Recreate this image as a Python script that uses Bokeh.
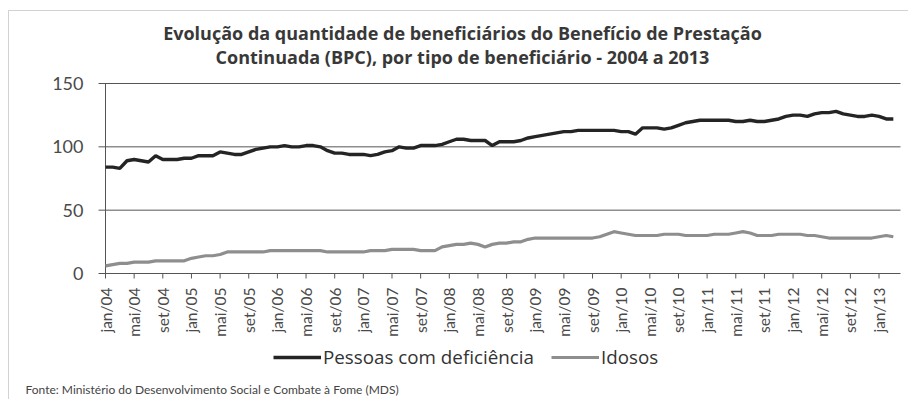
import math
from bokeh.plotting import figure
from bokeh.models import (Range1d, Legend, LegendItem, ColumnDataSource, Label, BoxAnnotation)
from bokeh.core.properties import value
from bokeh.embed import file_html
from bokeh.resources import INLINE

# ---- data (thousands) ----
deficiencia = [84, 84, 83, 89, 90, 89, 88, 93, 90, 90, 90, 91, 91, 93, 93, 93, 96, 95, 94, 94,
               96, 98, 99, 100, 100, 101, 100, 100, 101, 101, 100, 97, 95, 95, 94, 94, 94, 93, 94, 96,
               97, 100, 99, 99, 101, 101, 101, 102, 104, 106, 106, 105, 105, 105, 101, 104, 104, 104, 105, 107,
               108, 109, 110, 111, 112, 112, 113, 113, 113, 113, 113, 113, 112, 112, 110, 115, 115, 115, 114, 115,
               117, 119, 120, 121, 121, 121, 121, 121, 120, 120, 121, 120, 120, 121, 122, 124, 125, 125, 124, 126,
               127, 127, 128, 126, 125, 124, 124, 125, 124, 122, 122]
idosos = [6, 7, 8, 8, 9, 9, 9, 10, 10, 10, 10, 10, 12, 13, 14, 14, 15, 17, 17, 17,
          17, 17, 17, 18, 18, 18, 18, 18, 18, 18, 18, 17, 17, 17, 17, 17, 17, 18, 18, 18,
          19, 19, 19, 19, 18, 18, 18, 21, 22, 23, 23, 24, 23, 21, 23, 24, 24, 25, 25, 27,
          28, 28, 28, 28, 28, 28, 28, 28, 28, 29, 31, 33, 32, 31, 30, 30, 30, 30, 31, 31,
          31, 30, 30, 30, 30, 31, 31, 31, 32, 33, 32, 30, 30, 30, 31, 31, 31, 31, 30, 30,
          29, 28, 28, 28, 28, 28, 28, 28, 29, 30, 29]
tick_labels = ["jan/04", "mai/04", "set/04", "jan/05", "mai/05", "set/05", "jan/06", "mai/06",
               "set/06", "jan/07", "mai/07", "set/07", "jan/08", "mai/08", "set/08", "jan/09",
               "mai/09", "set/09", "jan/10", "mai/10", "set/10", "jan/11", "mai/11", "set/11",
               "jan/12", "mai/12", "set/12", "jan/13"]
tick_step = 4
y_ticks = [0, 50, 100, 150]
series_names = ["Pessoas com deficiência", "Idosos"]
title_lines = ["Evolução da quantidade de beneficiários do Benefício de Prestação",
               "Continuada (BPC), por tipo de beneficiário - 2004 a 2013"]
source_note = "Fonte: Ministério do Desenvolvimento Social e Combate à Fome (MDS)"

# ---- layout constants (pixels) ----
W, H = 908, 399
ORIGIN_X, ORIGIN_Y = 105, 273      # pixel position of (first month, 0)
PLOT_W, PLOT_H = 795, 190          # pixel size of the data area
N_SLOTS = 111                      # months spanned by the data area
Y_MAX = 150
K = PLOT_W / N_SLOTS               # px per month
S = PLOT_H / Y_MAX                 # px per unit

FONT = "Lato"
TFONT = "Open Sans"
AXIS_COLOR = "#555555"
LABEL_COLOR = "#4a4a4a"

xr = Range1d(-ORIGIN_X / K, (W - ORIGIN_X) / K)
yr = Range1d(-(H - ORIGIN_Y) / S, ORIGIN_Y / S)

p = figure(width=W, height=H, x_range=xr, y_range=yr, x_axis_type=None, y_axis_type=None,
           output_backend="svg", toolbar_location=None, min_border=0)
p.outline_line_color = None
p.background_fill_color = "white"
p.border_fill_color = "white"

# outer chart border (top and left edges visible, as in the scan)
p.add_layout(BoxAnnotation(left=xr.start + 8 / K, right=xr.end + 50, top=yr.end - 10 / S,
                           bottom=yr.start - 50, fill_alpha=0, line_color="#6a6a6a", line_width=1))

# horizontal gridlines (with short outer ticks on the left)
p.segment(x0=[-7 / K] * len(y_ticks), x1=[N_SLOTS] * len(y_ticks), y0=y_ticks, y1=y_ticks,
          line_color=AXIS_COLOR, line_width=1)
# y axis line
p.segment(x0=[0], x1=[0], y0=[0], y1=[Y_MAX], line_color=AXIS_COLOR, line_width=1)
# y tick labels
p.text(x=[-22 / K] * len(y_ticks), y=y_ticks, text=[str(v) for v in y_ticks],
       text_align="right", text_baseline="middle", text_font=value(FONT),
       text_font_size="18px", text_color=LABEL_COLOR)

# x ticks and rotated labels
x_ticks = [tick_step * k for k in range(len(tick_labels))]
p.segment(x0=x_ticks, x1=x_ticks, y0=[0] * len(x_ticks), y1=[-5 / S] * len(x_ticks),
          line_color=AXIS_COLOR, line_width=1)
p.text(x=x_ticks, y=[-14 / S] * len(x_ticks), text=tick_labels, angle=math.pi / 2,
       text_align="right", text_baseline="middle", text_font=value(FONT),
       text_font_size="15.5px", text_color=LABEL_COLOR)

# series
months = list(range(len(deficiencia)))
src = ColumnDataSource(dict(m=months, d=deficiencia, i=idosos))
r1 = p.line("m", "d", source=src, line_color="#242424", line_width=3.4)
r2 = p.line("m", "i", source=src, line_color="#8e8e8e", line_width=3.2)

# titles
for txt, ypix in zip(title_lines, [32, 56]):
    p.add_layout(Label(x=462, y=H - ypix, x_units="screen", y_units="screen", text=txt,
                       text_align="center", text_baseline="middle", text_font=TFONT,
                       text_font_size="18px", text_font_style="bold", text_color="#383838"))

# source note
p.add_layout(Label(x=25, y=H - 389, x_units="screen", y_units="screen", text=source_note,
                   text_align="left", text_baseline="middle", text_font=FONT,
                   text_font_size="12px", text_color="#444444"))

legend = Legend(items=[LegendItem(label=series_names[0], renderers=[r1]),
                       LegendItem(label=series_names[1], renderers=[r2])],
                orientation="horizontal", location=(273, H - 370),
                padding=0, margin=0, spacing=17, glyph_width=48, glyph_height=20,
                label_standoff=2, label_text_font=TFONT, label_text_font_size="18.8px",
                label_text_color="#333333", background_fill_alpha=0, border_line_color=None)
p.add_layout(legend, "center")

open("out.html", "w").write(file_html(p, INLINE))
